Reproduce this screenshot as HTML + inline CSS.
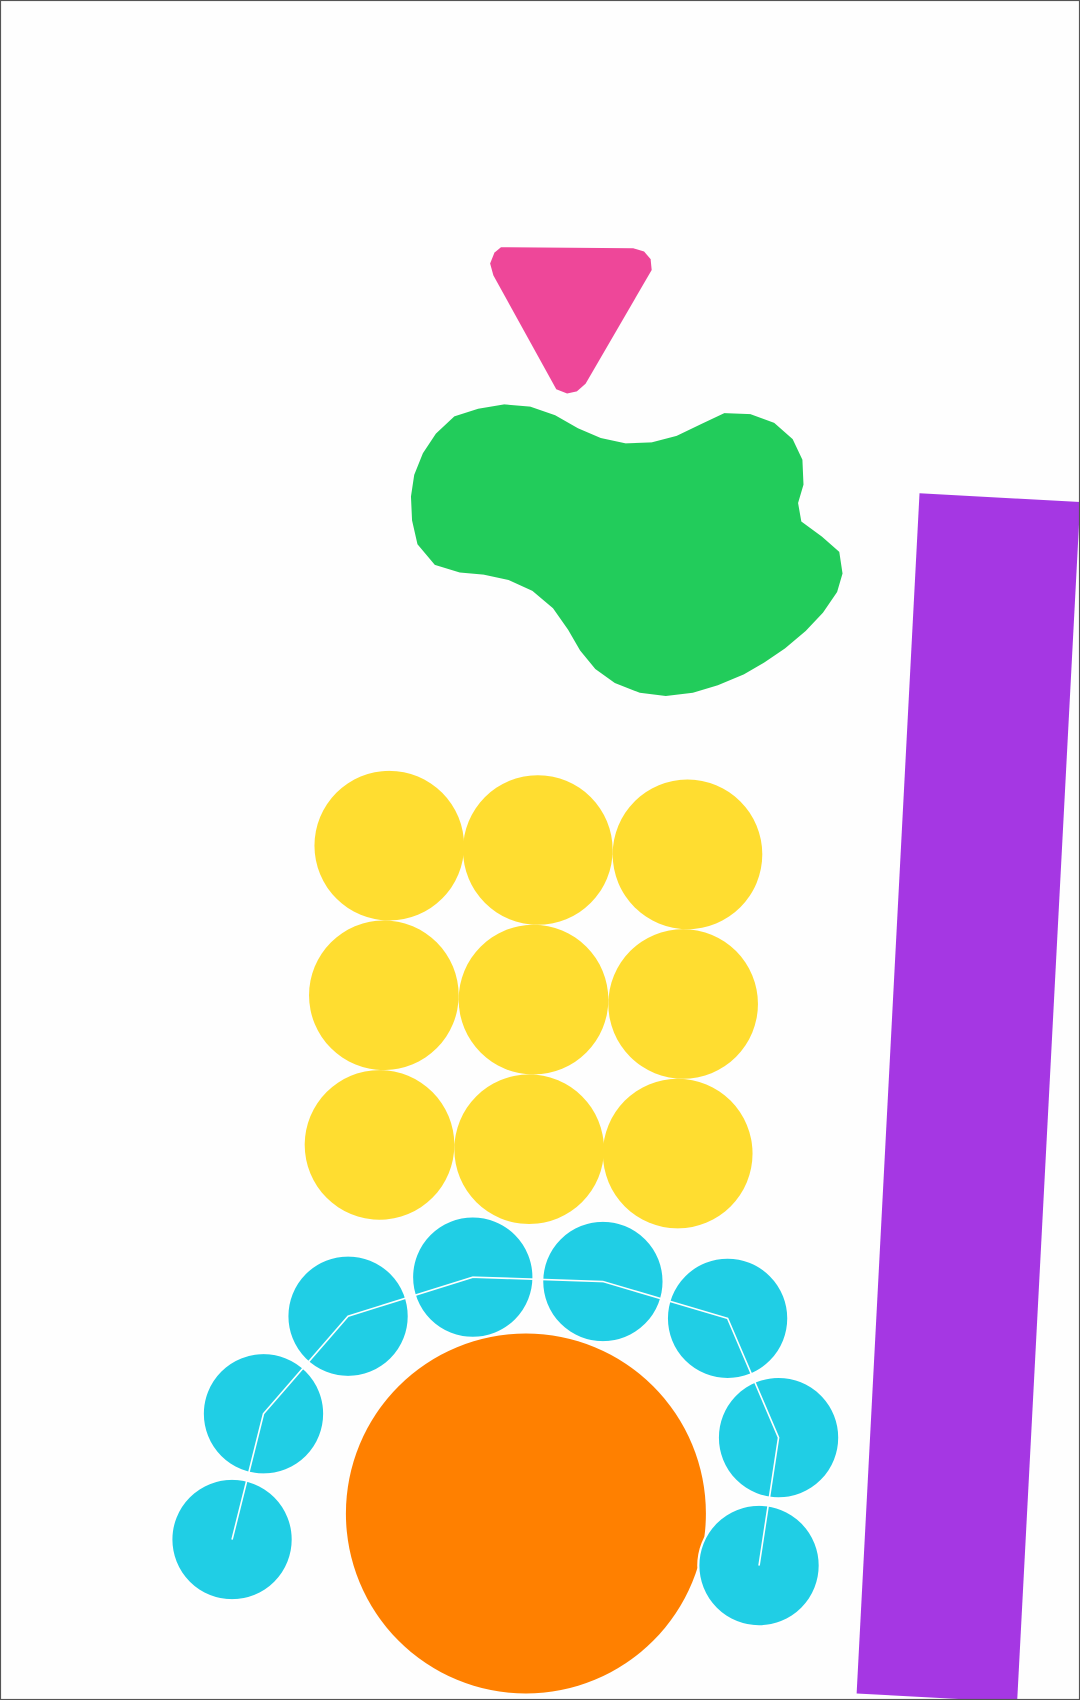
<!DOCTYPE html>
<html>
<head>
<meta charset="utf-8">
<style>
  html, body { margin: 0; padding: 0; background: #fff; }
  body { width: 1080px; height: 1700px; overflow: hidden; }
  svg { display: block; }
</style>
</head>
<body>
<svg width="1080" height="1700" viewBox="0 0 996 1568" preserveAspectRatio="none" xmlns="http://www.w3.org/2000/svg">
  <rect x="0" y="0" width="996" height="1568" fill="#fefefe"/>
  <polygon fill="#ee4799"
    points="462,228 584,229 594,232 600,239 601,249 540,354 532,361 523,363 513,359 455,254 452,243 456,233"/>
  <polygon fill="#22cc5b"
    points="465,373 489,375 512,383 533,395 554,404 577,409 601,408 624,402 647,391 668,381 692,382 714,390 731,405 740,424 741,447 736,464 739,481 758,495 774,509 777,529 772,546 759,565 743,582 724,598 705,611 686,622 662,632 639,639 614,642 590,639 567,630 549,617 535,600 524,581 510,561 491,545 469,535 446,530 424,528 401,521 385,502 380,480 379,458 382,438 390,418 402,400 419,384 441,377"/>
  <polygon fill="#a537e3"
    points="848,455 996,463 996,466 938,1570 790,1562"/>
  <g fill="#ffdd30">
    <circle cx="359" cy="780" r="69"/>
    <circle cx="496" cy="784" r="69"/>
    <circle cx="634" cy="788" r="69"/>
    <circle cx="354" cy="918" r="69"/>
    <circle cx="492" cy="922" r="69"/>
    <circle cx="630" cy="926" r="69"/>
    <circle cx="350" cy="1056" r="69"/>
    <circle cx="488" cy="1060" r="69"/>
    <circle cx="625" cy="1064" r="69"/>
  </g>
  <circle cx="485" cy="1396" r="166" fill="#ff8000"/>
  <g fill="#20cee5" stroke="#ffffff" stroke-width="2">
    <circle cx="214" cy="1420" r="56"/>
    <circle cx="243" cy="1304" r="56"/>
    <circle cx="321" cy="1214" r="56"/>
    <circle cx="436" cy="1178" r="56"/>
    <circle cx="556" cy="1182" r="56"/>
    <circle cx="671" cy="1216" r="56"/>
    <circle cx="718" cy="1326" r="56"/>
    <circle cx="700" cy="1444" r="56"/>
  </g>
  <polyline fill="none" stroke="#ffffff" stroke-width="1.5"
    points="214,1420 243,1304 321,1214 436,1178 556,1182 671,1216 718,1326 700,1444"/>
  <rect x="0.5" y="0.5" width="995" height="1567" fill="none" stroke="#555" stroke-width="1"/>
</svg>
</body>
</html>
